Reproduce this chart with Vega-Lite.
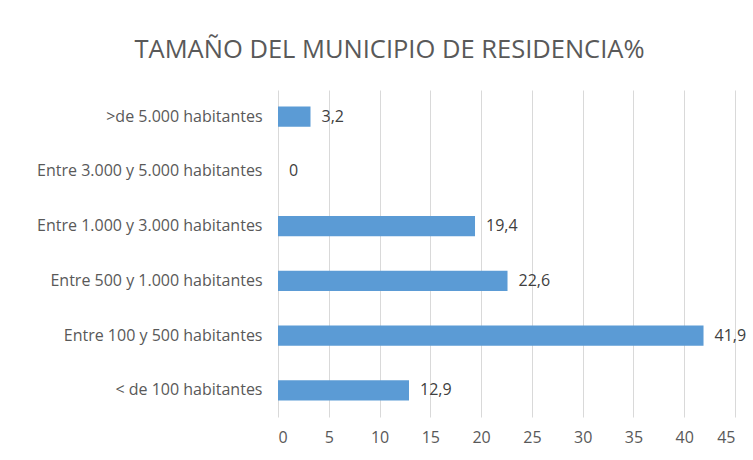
{
  "$schema": "https://vega.github.io/schema/vega-lite/v6.json",
  "width": 457,
  "height": 327,
  "autosize": {"type": "none"},
  "padding": {"left": 278, "top": 90, "right": 18, "bottom": 43},
  "background": "white",
  "title": {
    "text": "TAMAÑO DEL MUNICIPIO DE RESIDENCIA%",
    "font": "Open Sans",
    "fontSize": 25.5,
    "fontWeight": "normal",
    "color": "#595959",
    "anchor": "middle",
    "frame": "group",
    "offset": 27,
    "dx": -117
  },
  "data": {
    "values": [
      {"cat": ">de 5.000 habitantes", "v": 3.2, "lbl": "3,2"},
      {"cat": "Entre 3.000 y 5.000 habitantes", "v": 0, "lbl": "0"},
      {"cat": "Entre 1.000 y 3.000 habitantes", "v": 19.4, "lbl": "19,4"},
      {"cat": "Entre 500 y 1.000 habitantes", "v": 22.6, "lbl": "22,6"},
      {"cat": "Entre 100 y 500 habitantes", "v": 41.9, "lbl": "41,9"},
      {"cat": "< de 100 habitantes", "v": 12.9, "lbl": "12,9"}
    ]
  },
  "encoding": {
    "y": {
      "field": "cat", "type": "nominal", "sort": null,
      "scale": {"paddingInner": 0.63, "paddingOuter": 0.3},
      "axis": {"title": null, "domain": false, "ticks": false, "labelFont": "Open Sans", "labelFontSize": 16, "labelColor": "#595959", "labelPadding": 16, "labelLimit": 300}
    },
    "x": {
      "field": "v", "type": "quantitative",
      "scale": {"domain": [0, 45], "nice": false},
      "axis": {"title": null, "values": [0,5,10,15,20,25,30,35,40,45], "domain": false, "ticks": false, "grid": true, "gridColor": "#d9d9d9", "gridWidth": 1, "labelFont": "Open Sans", "labelFontSize": 16, "labelColor": "#595959", "labelPadding": 12}
    }
  },
  "layer": [
    {"mark": {"type": "bar", "color": "#5b9bd5"}},
    {"mark": {"type": "text", "align": "left", "dx": 11, "font": "Open Sans", "fontSize": 16, "color": "#404040"},
     "encoding": {"text": {"field": "lbl"}}}
  ],
  "config": {"view": {"stroke": null}}
}
